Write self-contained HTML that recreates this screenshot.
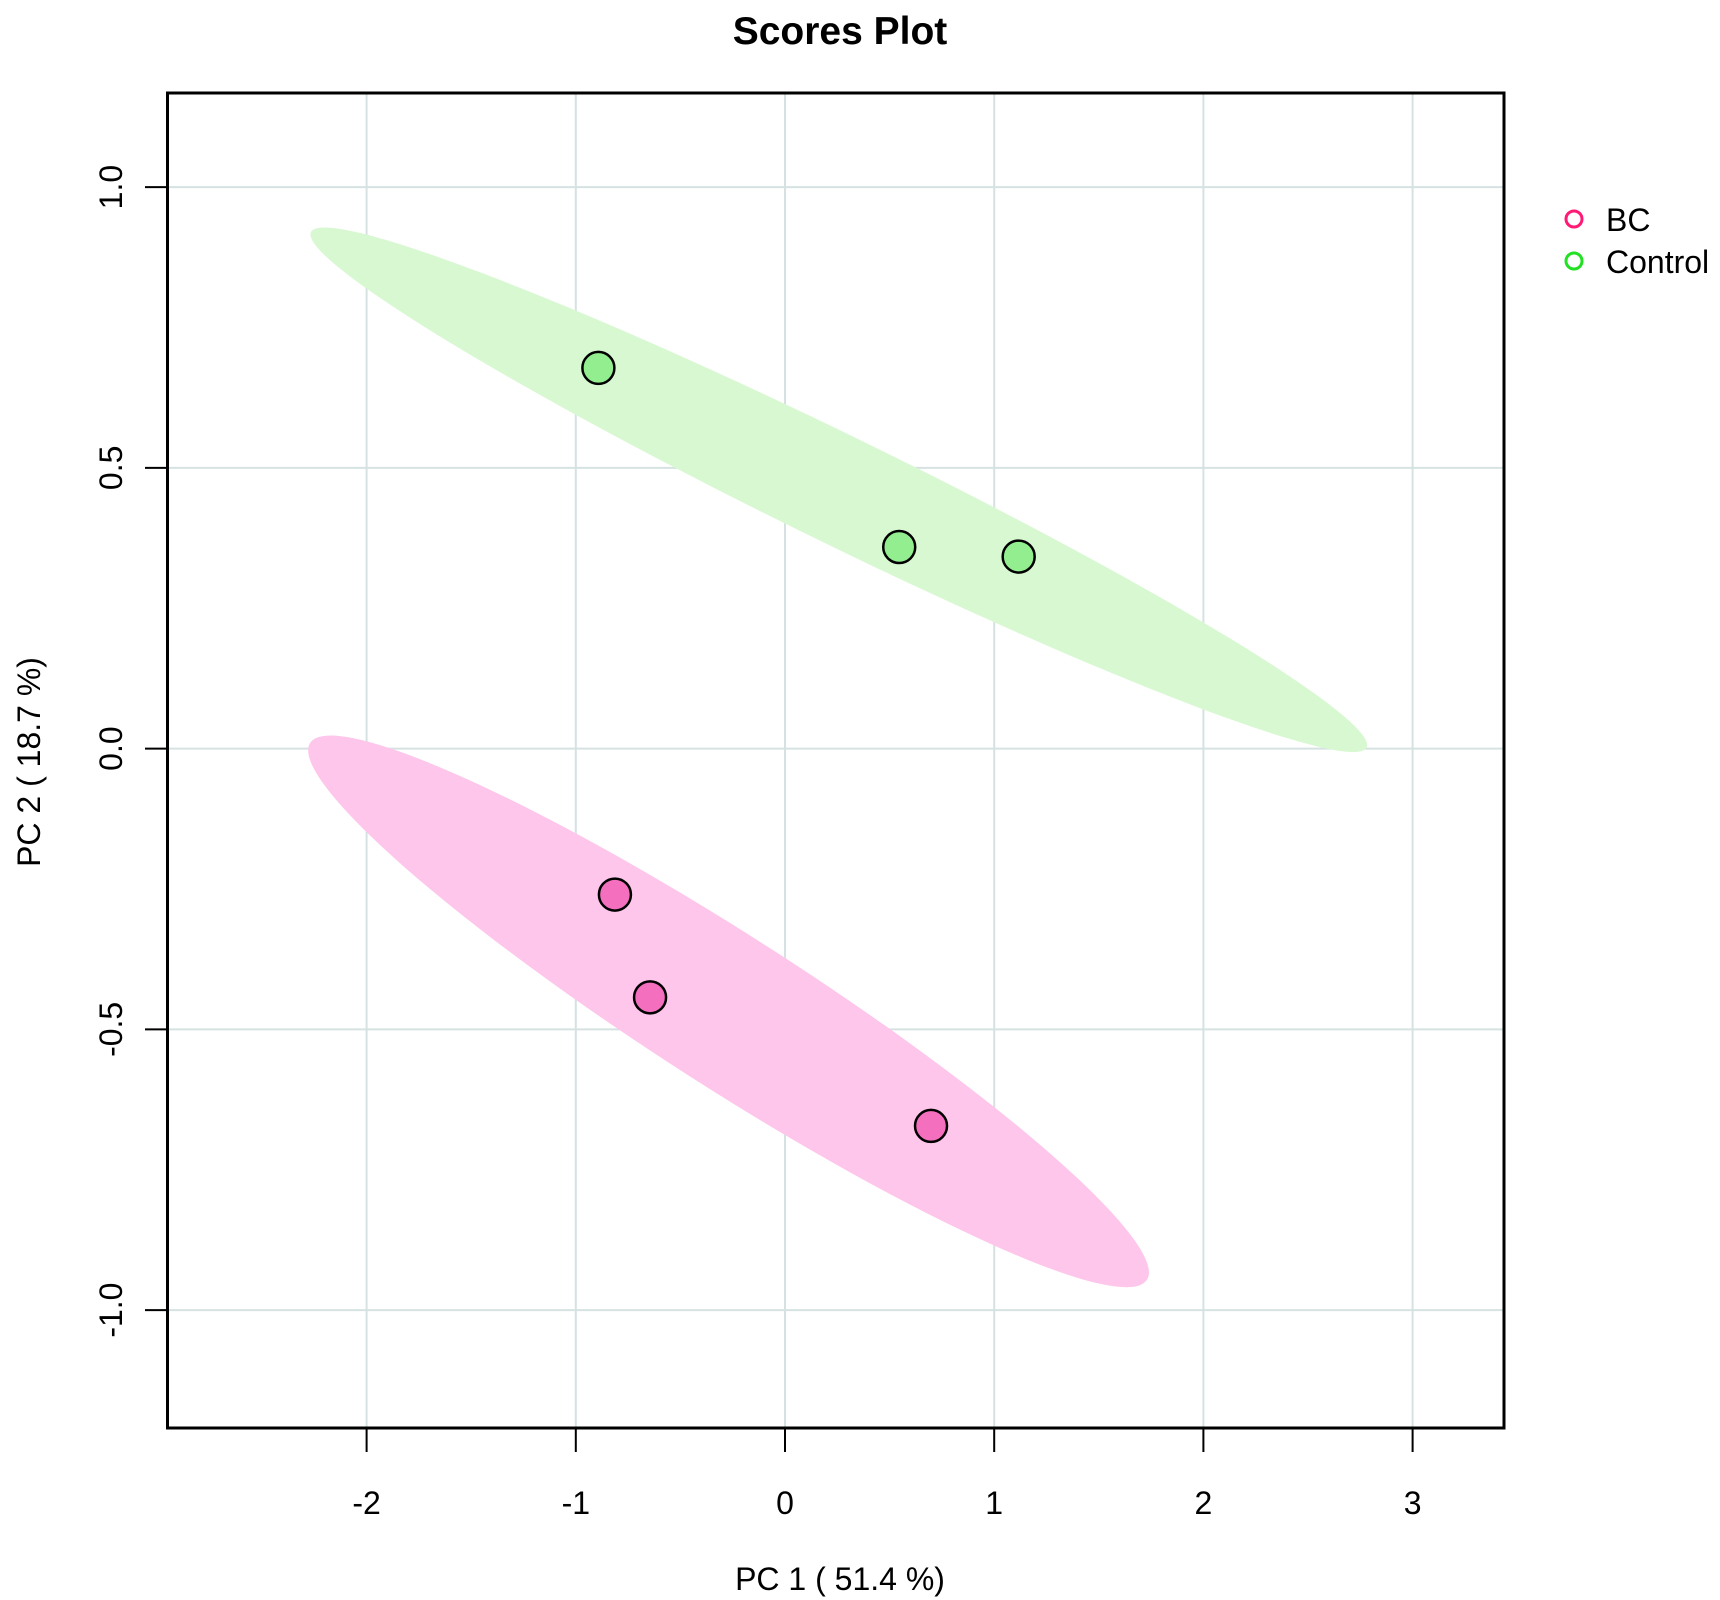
<!DOCTYPE html>
<html><head><meta charset="utf-8"><style>
html,body{margin:0;padding:0;background:#fff;}
svg{display:block;font-family:"Liberation Sans",sans-serif;}
</style></head><body>
<svg id="chart" width="1720" height="1600" viewBox="0 0 1720 1600" xmlns="http://www.w3.org/2000/svg">
<text x="840" y="44" text-anchor="middle" font-size="39" font-weight="bold">Scores Plot</text>
<g id="grid"></g>
<g id="ellipses"></g>
<g id="points"></g>
<rect x="167.5" y="93" width="1336.5" height="1335" fill="none" stroke="#000" stroke-width="3"/>
<g id="axes"></g>
<text x="840" y="1590" text-anchor="middle" font-size="32">PC 1 ( 51.4 %)</text>
<text transform="translate(40,762) rotate(-90)" text-anchor="middle" font-size="32">PC 2 ( 18.7 %)</text>
<g>
<g><circle cx="1574" cy="219" r="8" fill="none" stroke="#ff1a75" stroke-width="3"/><text x="1606" y="231" font-size="32">BC</text></g>
<g><circle cx="1574" cy="261" r="8" fill="none" stroke="#22e022" stroke-width="3"/><text x="1606" y="273" font-size="32">Control</text></g>
</g>
</svg>
<script>
const xTicks = [-2, -1, 0, 1, 2, 3];
const yTicks = [-1.0, -0.5, 0.0, 0.5, 1.0];
const yTickLabels = ["-1.0", "-0.5", "0.0", "0.5", "1.0"];
const groups = ["BC", "Control"];
const bcX = [-0.813, -0.645, 0.698];
const bcY = [-0.26, -0.443, -0.672];
const ctrlX = [-0.892, 0.546, 1.117];
const ctrlY = [0.678, 0.359, 0.342];
const ellCenterX = [-0.27, 0.257];
const ellCenterY = [-0.468, 0.461];
const ellTipX = [-2.27, -2.266];
const ellTipY = [0.01, 0.92];
const ellMinorRatio = [0.152, 0.092];

const X = v => 785 + v * 209.2;
const Y = v => 748.6 - v * 561.5;
const NS = "http://www.w3.org/2000/svg";
function mk(tag, attrs, parent){ const e=document.createElementNS(NS,tag); for(const k in attrs) e.setAttribute(k,attrs[k]); parent.appendChild(e); return e; }
const grid=document.getElementById('grid'), axes=document.getElementById('axes');
xTicks.forEach(t=>{
  const g=mk('line',{x1:X(t),x2:X(t),y1:93,y2:1428,stroke:'#d6e2e2','stroke-width':2},grid);
  
  
  const tk=mk('line',{x1:X(t),x2:X(t),y1:1428,y2:1452,stroke:'#000','stroke-width':2},axes);
  
  
  const tx=mk('text',{x:X(t),y:1514,'text-anchor':'middle','font-size':32},axes);
  tx.textContent=String(t);
  
  
});
yTicks.forEach((t,i)=>{
  const g=mk('line',{x1:167,x2:1504,y1:Y(t),y2:Y(t),stroke:'#d6e2e2','stroke-width':2},grid);
  
  
  const tk=mk('line',{x1:145,x2:167,y1:Y(t),y2:Y(t),stroke:'#000','stroke-width':2},axes);
  
  
  const tx=mk('text',{transform:`translate(122,${Y(t)}) rotate(-90)`,'text-anchor':'middle','font-size':32},axes);
  tx.textContent=yTickLabels[i];
  
  
});
const ellG=document.getElementById('ellipses');
const ellFill=['#fdc6ea','#d8f8d2'];
groups.forEach((gname,i)=>{
  const cx=X(ellCenterX[i]), cy=Y(ellCenterY[i]);
  const dx=X(ellTipX[i])-cx, dy=Y(ellTipY[i])-cy;
  const a=Math.hypot(dx,dy), ang=Math.atan2(dy,dx)*180/Math.PI;
  const e=mk('ellipse',{cx:0,cy:0,rx:a,ry:a*ellMinorRatio[i],fill:ellFill[i],transform:`translate(${cx},${cy}) rotate(${ang})`},ellG);
  
  
});
const ptG=document.getElementById('points');
bcX.forEach((v,i)=>{
  const c=mk('circle',{cx:X(v),cy:Y(bcY[i]),r:16,fill:'#f56fbf',stroke:'#000','stroke-width':2.5},ptG);
  
  
});
ctrlX.forEach((v,i)=>{
  const c=mk('circle',{cx:X(v),cy:Y(ctrlY[i]),r:16,fill:'#92ee8e',stroke:'#000','stroke-width':2.5},ptG);
  
  
});
</script>
</body></html>
